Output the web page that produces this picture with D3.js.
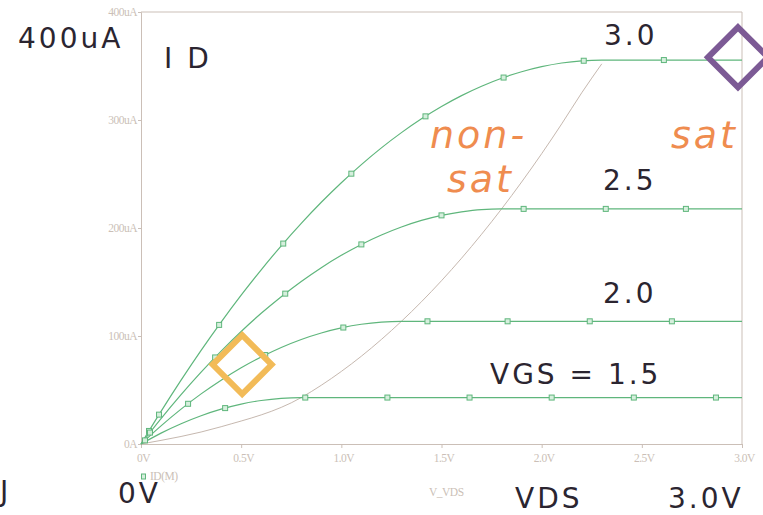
<!DOCTYPE html>
<html>
<head>
<meta charset="utf-8">
<script src="https://cdn.jsdelivr.net/npm/d3@7"></script>
<style>
  html, body { margin: 0; padding: 0; background: #fff; overflow: hidden; }
  svg { display: block; }
</style>
</head>
<body>
<svg id="chart" width="763" height="515"></svg>
<script>
// Drain-voltage sweep (V) shared by all gate-voltage traces
const vdsSweep = [0, 0.1, 0.2, 0.3, 0.4, 0.5, 0.6, 0.7, 0.8, 0.9, 1.0,
                  1.1, 1.2, 1.3, 1.4, 1.5, 1.6, 1.7, 1.8, 1.9, 2.0,
                  2.1, 2.2, 2.3, 2.4, 2.5, 2.6, 2.7, 2.8, 2.9, 3.0];

// Drain current ID(M) in uA for each gate voltage
const idVgs30 = [0, 30.2, 59.1, 86.7, 112.9, 137.8, 161.3, 183.5, 204.3, 223.8, 241.9,
                 258.7, 274.2, 288.3, 301.1, 312.5, 322.6, 331.3, 338.7, 344.7, 349.4,
                 352.8, 354.8, 355.5, 355.5, 355.5, 355.5, 355.5, 355.5, 355.5, 355.5];
const idVgs25 = [0, 23.5, 45.7, 66.5, 86.0, 104.2, 121.0, 136.4, 150.5, 163.3, 174.7,
                 184.8, 193.5, 200.9, 207.0, 211.7, 215.0, 217.1, 217.7, 217.7, 217.7,
                 217.7, 217.7, 217.7, 217.7, 217.7, 217.7, 217.7, 217.7, 217.7, 217.7];
const idVgs20 = [0, 16.8, 32.3, 46.4, 59.1, 70.6, 80.6, 89.4, 96.8, 102.8, 107.5,
                 110.9, 112.9, 113.6, 113.6, 113.6, 113.6, 113.6, 113.6, 113.6, 113.6,
                 113.6, 113.6, 113.6, 113.6, 113.6, 113.6, 113.6, 113.6, 113.6, 113.6];
const idVgs15 = [0, 10.1, 18.8, 26.2, 32.3, 37.0, 40.3, 42.3, 43.0, 43.0, 43.0,
                 43.0, 43.0, 43.0, 43.0, 43.0, 43.0, 43.0, 43.0, 43.0, 43.0,
                 43.0, 43.0, 43.0, 43.0, 43.0, 43.0, 43.0, 43.0, 43.0, 43.0];

// Trace marker positions along VDS (V)
const markVgs30 = [0.04, 0.09, 0.39, 0.71, 1.05, 1.42, 1.81, 2.21, 2.61];
const markVgs25 = [0.045, 0.37, 0.72, 1.10, 1.50, 1.91, 2.32, 2.72];
const markVgs20 = [0.02, 0.235, 0.62, 1.01, 1.43, 1.83, 2.24, 2.65];
const markVgs15 = [0.42, 0.82, 1.23, 1.64, 2.05, 2.46, 2.87];

// Triode / saturation boundary
const vdsEdge = [0, 0.4, 0.8, 0.9, 1.0, 1.1, 1.2, 1.3, 1.4, 1.5, 1.6, 1.7, 1.8, 1.9, 2.0, 2.1, 2.2, 2.3];
const idEdge  = [0, 16, 43.0, 54.4, 67.2, 81.3, 96.8, 113.6, 131.7, 151.2, 172.0, 194.2, 217.7, 242.6, 268.8, 296.4, 325.2, 352];

// Axis ticks
const xTicks = [0, 0.5, 1.0, 1.5, 2.0, 2.5, 3.0];
const xTickLabels = ["0V", "0.5V", "1.0V", "1.5V", "2.0V", "2.5V", "3.0V"];
const yTicks = [0, 100, 200, 300, 400];
const yTickLabels = ["0A", "100uA", "200uA", "300uA", "400uA"];

// Curve labels
const vgsLabels = ["3.0", "2.5", "2.0", "VGS = 1.5"];

const svg = d3.select("#chart");
const x = d3.scaleLinear().domain([0, 3]).range([141, 742]);
const y = d3.scaleLinear().domain([0, 400]).range([444, 12]);

const axisColor = "#cbbfb7";
const traceColor = "#5fb67c";
const inkColor = "#2b2530";
const orange = "#ef8c4f";

// Plot frame
svg.append("line").attr("x1", x(0)).attr("x2", x(3)).attr("y1", y(400)).attr("y2", y(400))
  .attr("stroke", axisColor).attr("stroke-width", 1);
svg.append("line").attr("x1", x(3)).attr("x2", x(3)).attr("y1", y(400)).attr("y2", y(0))
  .attr("stroke", axisColor).attr("stroke-width", 1);

const xAxis = d3.axisBottom(x).tickValues(xTicks).tickSize(4).tickPadding(6)
  .tickFormat((d, i) => xTickLabels[i]);
const gx = svg.append("g").attr("transform", `translate(0,${y(0)})`).call(xAxis);
const yAxis = d3.axisLeft(y).tickValues(yTicks).tickSize(3).tickPadding(1)
  .tickFormat((d, i) => yTickLabels[i]);
const gy = svg.append("g").attr("transform", `translate(${x(0)},0)`).call(yAxis);

[gx, gy].forEach(g => {
  g.select(".domain").attr("stroke", axisColor);
  g.selectAll(".tick line").attr("stroke", axisColor);
  g.selectAll(".tick text")
    .attr("fill", axisColor)
    .style("font-family", "'Liberation Serif', serif")
    .style("font-size", "11.5px")
    .style("letter-spacing", "-0.5px");
});
gx.selectAll(".tick text").attr("dx", 2);

// Boundary curve
const edgePts = vdsEdge.map((v, i) => [v, idEdge[i]]);
svg.append("path")
  .attr("d", d3.line().x(d => x(d[0])).y(d => y(d[1])).curve(d3.curveMonotoneX)(edgePts))
  .attr("fill", "none").attr("stroke", "#c6b8af").attr("stroke-width", 1);

// ID traces
const traces = [
  { id: idVgs30, marks: markVgs30 },
  { id: idVgs25, marks: markVgs25 },
  { id: idVgs20, marks: markVgs20 },
  { id: idVgs15, marks: markVgs15 }
];
const traceLine = d3.line().x(d => x(d[0])).y(d => y(d[1])).curve(d3.curveMonotoneX);

function interpId(ids, v) {
  const i = Math.min(Math.max(d3.bisectRight(vdsSweep, v) - 1, 0), vdsSweep.length - 2);
  const t = (v - vdsSweep[i]) / (vdsSweep[i + 1] - vdsSweep[i]);
  return ids[i] + t * (ids[i + 1] - ids[i]);
}

traces.forEach(tr => {
  const pts = vdsSweep.map((v, i) => [v, tr.id[i]]);
  svg.append("path").attr("d", traceLine(pts))
    .attr("fill", "none").attr("stroke", traceColor).attr("stroke-width", 1.2);
});
traces.forEach(tr => {
  svg.append("g").selectAll("rect").data(tr.marks).join("rect")
    .attr("x", v => x(v) - 2.5).attr("y", v => y(interpId(tr.id, v)) - 2.5)
    .attr("width", 5).attr("height", 5)
    .attr("fill", "#d6efdd").attr("stroke", traceColor).attr("stroke-width", 1);
});

// Legend and sweep-variable captions
svg.append("rect").attr("x", 141.5).attr("y", 474).attr("width", 4).attr("height", 5)
  .attr("fill", "#d6efdd").attr("stroke", traceColor).attr("stroke-width", 1);
const smallCap = (tx, ty, s) => svg.append("text").attr("x", tx).attr("y", ty).text(s)
  .attr("fill", axisColor).style("font-family", "'Liberation Serif', serif")
  .style("font-size", "11.5px").style("letter-spacing", "-0.5px");
smallCap(150, 480, "ID(M)");
smallCap(429, 496, "V_VDS");

// Large annotation text
const big = (tx, ty, s, anchor) => svg.append("text").attr("x", tx).attr("y", ty).text(s)
  .attr("fill", inkColor).attr("text-anchor", anchor || "start")
  .style("font-family", "'DejaVu Sans', sans-serif")
  .style("font-size", "28px").style("letter-spacing", "3px");

big(18, 48, "400uA");
big(164, 68, "I D");
big(604, 45, vgsLabels[0]);
big(603, 190, vgsLabels[1]);
big(603, 303, vgsLabels[2]);
big(490, 384, vgsLabels[3]);
big(118, 503, "0V");
big(515, 508, "VDS");
big(668, 508, "3.0V");
big(0, 501, "J");

const italic = (tx, ty, s) => svg.append("text").attr("x", tx).attr("y", ty).text(s)
  .attr("fill", orange)
  .style("font-family", "'DejaVu Sans', sans-serif")
  .style("font-style", "italic")
  .style("font-size", "38px").style("letter-spacing", "3px");
italic(430, 148, "non-");
italic(447, 192, "sat");
italic(671, 148, "sat");

// Highlight diamonds
const diamond = (cx, cy, r, color) => svg.append("path")
  .attr("d", `M${cx},${cy - r}L${cx + r},${cy}L${cx},${cy + r}L${cx - r},${cy}Z`)
  .attr("fill", "none").attr("stroke", color).attr("stroke-width", 6)
  .attr("stroke-linejoin", "miter");
diamond(x(0.505), y(73.5), 29.5, "#f2bb58");
diamond(x(2.98), y(358), 30, "#7c5a95");
</script>
</body>
</html>
